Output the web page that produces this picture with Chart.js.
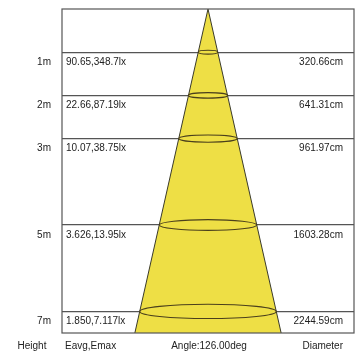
<!DOCTYPE html>
<html>
<head>
<meta charset="utf-8">
<script src="https://cdn.jsdelivr.net/npm/chart.js@4"></script>
<style>
  body { margin: 0; background: #fff; }
  #wrap { width: 356px; height: 354px; }
</style>
</head>
<body>
<div id="wrap"><canvas id="beam" width="356" height="354"></canvas></div>
<script>
// Beam data per mounting height
const heights = [1, 2, 3, 5, 7];
const heightLabels = ['1m', '2m', '3m', '5m', '7m'];
const eavg = ['90.65', '22.66', '10.07', '3.626', '1.850'];
const emax = ['348.7', '87.19', '38.75', '13.95', '7.117'];
const diameters = [320.66, 641.31, 961.97, 1603.28, 2244.59]; // cm
const beamAngle = '126.00';
const bottomLabels = ['Height', 'Eavg,Emax', 'Angle:' + beamAngle + 'deg', 'Diameter'];

const yMax = 7.5;   // drawing ends half a metre below the last row
const xHalf = 24;   // half width of the box, in metres of radius

// Cone outline: radius (m) at each row, extended to the bottom of the box
const radii = diameters.map(d => d / 200);
const lastR = radii[radii.length - 1] * yMax / heights[heights.length - 1];
const conePoints = [{ x: -lastR, y: yMax }]
  .concat(heights.map((h, i) => ({ x: -radii[i], y: h })).reverse())
  .concat([{ x: 0, y: 0 }])
  .concat(heights.map((h, i) => ({ x: radii[i], y: h })))
  .concat([{ x: lastR, y: yMax }]);

const textFont = '10px "Liberation Sans", Arial, sans-serif';
const textColor = '#222';

// Ellipses, box border and the text inside the rows
const beamDecor = {
  id: 'beamDecor',
  afterDatasetsDraw(chart) {
    const { ctx, chartArea, scales } = chart;
    const xs = scales.x, ys = scales.y;
    const cx = xs.getPixelForValue(0);

    ctx.save();
    ctx.strokeStyle = '#4a3f1c';
    ctx.lineWidth = 1.1;
    heights.forEach((h, i) => {
      const rx = xs.getPixelForValue(radii[i]) - cx;
      const ry = 1 + rx * 0.09;
      ctx.beginPath();
      ctx.ellipse(cx, ys.getPixelForValue(h), rx, ry, 0, 0, Math.PI * 2);
      ctx.stroke();
    });

    ctx.strokeStyle = '#555';
    ctx.lineWidth = 1.2;
    ctx.strokeRect(chartArea.left, chartArea.top, chartArea.right - chartArea.left, chartArea.bottom - chartArea.top);

    ctx.font = textFont;
    ctx.fillStyle = textColor;
    ctx.textBaseline = 'middle';
    heights.forEach((h, i) => {
      const y = ys.getPixelForValue(h) + 10;
      ctx.textAlign = 'left';
      ctx.fillText(eavg[i] + ',' + emax[i] + 'lx', chartArea.left + 4, y);
      ctx.textAlign = 'right';
      ctx.fillText(diameters[i].toFixed(2) + 'cm', chartArea.right - 11, y);
    });

    // column captions under the box
    const yb = chartArea.bottom + 13;
    ctx.textAlign = 'center';
    ctx.fillText(bottomLabels[0], 32, yb);
    ctx.textAlign = 'left';
    ctx.fillText(bottomLabels[1], chartArea.left + 3, yb);
    ctx.textAlign = 'center';
    ctx.fillText(bottomLabels[2], cx + 1, yb);
    ctx.textAlign = 'right';
    ctx.fillText(bottomLabels[3], chartArea.right - 11, yb);
    ctx.restore();
  }
};

new Chart(document.getElementById('beam'), {
  type: 'scatter',
  data: {
    datasets: [{
      data: conePoints,
      showLine: true,
      tension: 0,
      pointRadius: 0,
      borderColor: '#3a3a2a',
      borderWidth: 1,
      backgroundColor: '#eedf45',
      fill: { value: yMax }
    }]
  },
  options: {
    responsive: false,
    animation: false,
    layout: { padding: { top: 9, right: 2, bottom: 21, left: 0 } },
    plugins: {
      legend: { display: false },
      tooltip: { enabled: false }
    },
    scales: {
      x: {
        type: 'linear',
        min: -xHalf,
        max: xHalf,
        display: false
      },
      y: {
        type: 'linear',
        reverse: true,
        min: 0,
        max: yMax,
        afterFit(scale) {
          scale.width = 62;
          scale.paddingTop = 0;
          scale.paddingBottom = 0;
        },
        afterBuildTicks(scale) {
          scale.ticks = heights.map(v => ({ value: v }));
        },
        grid: { color: '#555', lineWidth: 1.2, drawTicks: false },
        border: { display: false },
        ticks: {
          padding: 11,
          labelOffset: 10,
          color: textColor,
          font: { family: '"Liberation Sans", Arial, sans-serif', size: 10 },
          callback: (value, index) => heightLabels[index]
        }
      }
    }
  },
  plugins: [beamDecor]
});
</script>
</body>
</html>
